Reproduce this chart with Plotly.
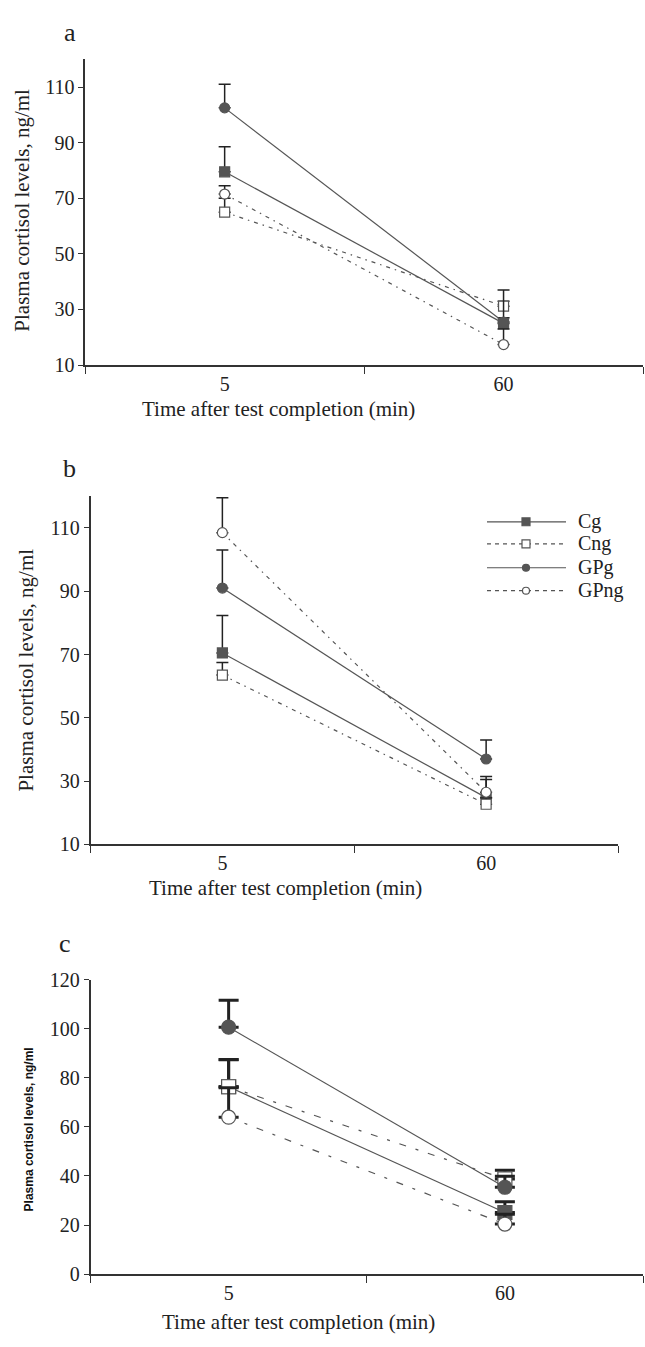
import plotly.graph_objects as go

W, H = 645, 1347

times = ["5", "60"]
groups = ["Cg", "Cng", "GPg", "GPng"]

# Panel a
a_Cg = [79.5, 25.0]
a_Cng = [65.0, 31.2]
a_GPg = [102.5, 25.5]
a_GPng = [71.5, 17.4]
a_Cg_err = [9.0, 2.0]
a_Cng_err = [5.0, 1.8]
a_GPg_err = [8.5, 11.5]
a_GPng_err = [3.0, 5.6]

# Panel b
b_Cg = [70.5, 24.8]
b_Cng = [63.5, 22.7]
b_GPg = [91.0, 37.0]
b_GPng = [108.5, 26.5]
b_Cg_err = [11.8, 5.7]
b_Cng_err = [4.0, 2.0]
b_GPg_err = [12.0, 6.0]
b_GPng_err = [11.0, 5.0]

# Panel c
c_Cg = [76.4, 25.1]
c_Cng = [76.4, 38.8]
c_GPg = [100.7, 35.4]
c_GPng = [64.0, 20.4]
c_Cg_err = [11.0, 4.4]
c_Cng_err = [11.1, 3.5]
c_GPg_err = [11.0, 4.5]
c_GPng_err = [12.0, 4.0]

yticks_ab = [10, 30, 50, 70, 90, 110]
yticks_c = [0, 20, 40, 60, 80, 100, 120]

GREY = "#555555"
DARK = "#222222"
SERIF = "Liberation Serif"


def px(x):
    return x / W


def py(y):
    return 1 - y / H


fig = go.Figure()


def add_series(name, vals, err, xa, ya, filled, symbol, dashed, size, lw, dash, ethick, ewidth):
    fig.add_trace(go.Scatter(
        x=times, y=vals, xaxis=xa, yaxis=ya, name=name, showlegend=False,
        mode="lines+markers",
        line=dict(color=GREY, width=lw, dash=dash if dashed else "solid"),
        marker=dict(symbol=symbol, size=size,
                    color=GREY if filled else "white",
                    line=dict(color=GREY, width=1.2)),
        error_y=dict(type="data", array=err, arrayminus=[0, 0], symmetric=False,
                     color=DARK, thickness=ethick, width=ewidth),
    ))


dash_ab = "4px,5px,1.5px,5px"
dash_c = "7px,10px,3px,10px"

for name, v, e, f, s, d in [
    ("Cg", a_Cg, a_Cg_err, True, "square", False),
    ("Cng", a_Cng, a_Cng_err, False, "square", True),
    ("GPng", a_GPng, a_GPng_err, False, "circle", True),
    ("GPg", a_GPg, a_GPg_err, True, "circle", False),
]:
    add_series(name, v, e, "x", "y", f, s, d, 10, 1.2, dash_ab, 1.5, 6)

for name, v, e, f, s, d in [
    ("Cg", b_Cg, b_Cg_err, True, "square", False),
    ("Cng", b_Cng, b_Cng_err, False, "square", True),
    ("GPng", b_GPng, b_GPng_err, False, "circle", True),
    ("GPg", b_GPg, b_GPg_err, True, "circle", False),
]:
    add_series(name, v, e, "x2", "y2", f, s, d, 10, 1.2, dash_ab, 1.5, 6)

for name, v, e, f, s, d in [
    ("Cg", c_Cg, c_Cg_err, True, "square", False),
    ("Cng", c_Cng, c_Cng_err, False, "square", True),
    ("GPng", c_GPng, c_GPng_err, False, "circle", True),
    ("GPg", c_GPg, c_GPg_err, True, "circle", False),
]:
    add_series(name, v, e, "x3", "y3", f, s, d, 14, 1.2, dash_c, 3, 10)

xcommon = dict(type="category", range=[-0.5, 1.5], tickson="boundaries",
               ticks="outside", ticklen=7, tickwidth=1.2, tickcolor="#333",
               showline=True, linecolor="#333", linewidth=1.5, showgrid=False,
               zeroline=False, tickfont=dict(family=SERIF, size=20, color=DARK))
ycommon = dict(ticks="outside", ticklen=5, tickwidth=1.2, tickcolor="#333",
               showline=True, linecolor="#333", linewidth=1.5, showgrid=False,
               zeroline=False, tickfont=dict(family=SERIF, size=20, color=DARK))

fig.update_layout(
    width=W, height=H, margin=dict(l=0, r=0, t=0, b=0),
    paper_bgcolor="white", plot_bgcolor="white", showlegend=False,
    xaxis=dict(domain=[px(85.2), px(643)], anchor="y", **xcommon),
    yaxis=dict(domain=[py(360), py(49)], anchor="x", range=[10, 120],
               tickvals=yticks_ab, **ycommon),
    xaxis2=dict(domain=[px(90.5), px(618)], anchor="y2", **xcommon),
    yaxis2=dict(domain=[py(847.3), py(493.3)], anchor="x2", range=[10, 120],
                tickvals=yticks_ab, **ycommon),
    xaxis3=dict(domain=[px(90.5), px(643)], anchor="y3", **xcommon),
    yaxis3=dict(domain=[py(1284), py(985)], anchor="x3", range=[0, 120],
                tickvals=yticks_c, **ycommon),
)

C = dict(xref="paper", yref="paper", xanchor="center", yanchor="middle", showarrow=False)

ann = []
for lab, x, y in [("a", 70, 22), ("b", 69, 465), ("c", 65, 948)]:
    ann.append(dict(text=lab, x=px(x), y=py(y), font=dict(family=SERIF, size=26, color=DARK), **C))
for x, y in [(22, 203), (26.5, 670)]:
    ann.append(dict(text="Plasma cortisol levels, ng/ml", x=px(x), y=py(y), textangle=-90,
                    font=dict(family=SERIF, size=21, color=DARK), **C))
ann.append(dict(text="<b>Plasma cortisol levels, ng/ml</b>", x=px(29), y=py(1137), textangle=-90,
                font=dict(family="Liberation Sans", size=12, color="#111"), **C))
for x, y in [(278, 405), (285, 892), (298, 1333)]:
    ann.append(dict(text="Time after test completion (min)", x=px(x), y=py(y),
                    font=dict(family=SERIF, size=21, color=DARK), **C))

shapes = []
leg_rows = [519.3, 541.7, 566, 589.3]
leg_kind = [(True, "square", False), (False, "square", True),
            (True, "circle", False), (False, "circle", True)]
for name, yy, (filled, sym, dashed) in zip(groups, leg_rows, leg_kind):
    shapes.append(dict(type="line", xref="paper", yref="paper",
                       x0=px(487), x1=px(566), y0=py(yy), y1=py(yy),
                       line=dict(color=GREY, width=1.2, dash="4px,4px" if dashed else "solid")))
    r = 4 if sym == "square" else 3.5
    shapes.append(dict(type="rect" if sym == "square" else "circle",
                       xref="paper", yref="paper",
                       x0=px(526 - r), x1=px(526 + r), y0=py(yy + r), y1=py(yy - r),
                       fillcolor=GREY if filled else "white",
                       line=dict(color=GREY, width=1.2)))
    ann.append(dict(text=name, x=px(576), y=py(yy), xref="paper", yref="paper",
                    xanchor="left", yanchor="middle", showarrow=False,
                    font=dict(family=SERIF, size=20, color=DARK)))

fig.update_layout(annotations=ann, shapes=shapes)
fig.write_html("out.html", config={"displayModeBar": False},
               post_script="document.body.style.margin='0';")
